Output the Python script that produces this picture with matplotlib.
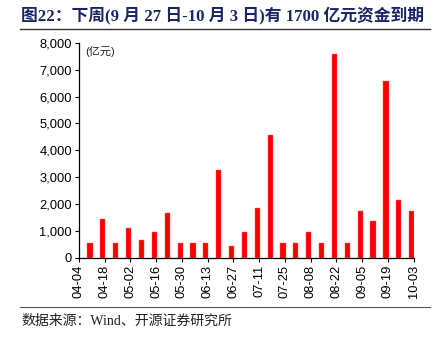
import numpy as np
import pandas as pd
import matplotlib
matplotlib.use("Agg")
import matplotlib.pyplot as plt
import matplotlib.dates as mdates
from matplotlib.lines import Line2D

# weekly maturity amounts (亿元), week-ending dates
dates = pd.date_range("2021-04-10", "2021-10-02", freq="7D")
values = [570, 1460, 570, 1130, 660, 960, 1660, 570, 570, 570,
          3260, 460, 960, 1860, 4560, 570, 570, 960, 570, 7580,
          570, 1760, 1360, 6570, 2170, 1760]
tick_dates = pd.date_range("2021-04-04", "2021-10-03", freq="14D")

title = "图22：下周(9 月 27 日-10 月 3 日)有 1700 亿元资金到期"
source = "数据来源：Wind、开源证券研究所"
unit = "(亿元)"

plt.rcParams["font.family"] = ["Liberation Sans", "Noto Sans CJK SC"]

fig = plt.figure(figsize=(4.36, 3.43), dpi=100)
ax = fig.add_axes([79 / 436, 1 - 258 / 343, (413.5 - 79) / 436, (258 - 42.7) / 343])

ax.bar(dates, values, width=2.8, color="#ff0000", edgecolor="#ff6060", linewidth=0.3)

ax.set_xlim(tick_dates[0], tick_dates[-1])
ax.set_ylim(0, 8000)
ax.set_yticks(np.arange(0, 8001, 1000))
ax.yaxis.set_major_formatter(matplotlib.ticker.FuncFormatter(lambda v, p: f"{int(v):,}"))
ax.set_xticks(tick_dates)
ax.xaxis.set_major_formatter(mdates.DateFormatter("%m-%d"))
ax.tick_params(axis="x", rotation=90, length=3, width=0.8, labelsize=9.3, pad=2)
ax.tick_params(axis="y", length=3, width=0.8, labelsize=9.3, pad=2)

for s in ["top", "right"]:
    ax.spines[s].set_visible(False)
for s in ["left", "bottom"]:
    ax.spines[s].set_linewidth(0.9)
    ax.spines[s].set_color("black")

ax.text(0.02, 0.985, unit, transform=ax.transAxes, fontsize=8, va="top", ha="left",
        family=["Liberation Sans", "Noto Sans CJK SC"], color="#222222")

fig.text(21 / 436, 1 - 15 / 343, title, fontsize=12.1, fontweight="bold", color="#1a2565",
         va="center", ha="left", family=["Liberation Serif", "Noto Sans CJK SC"])
fig.add_artist(Line2D([20 / 436, 430 / 436], [1 - 29.3 / 343] * 2, color="#333333", lw=1.0))
fig.add_artist(Line2D([20 / 436, 430 / 436], [1 - 307.3 / 343] * 2, color="#555555", lw=0.8))
fig.text(21 / 436, 1 - 321 / 343, source, fontsize=10, color="#222222", va="center", ha="left",
         family=["Liberation Serif", "Noto Sans CJK SC"])

fig.savefig("out.png", dpi=100)
